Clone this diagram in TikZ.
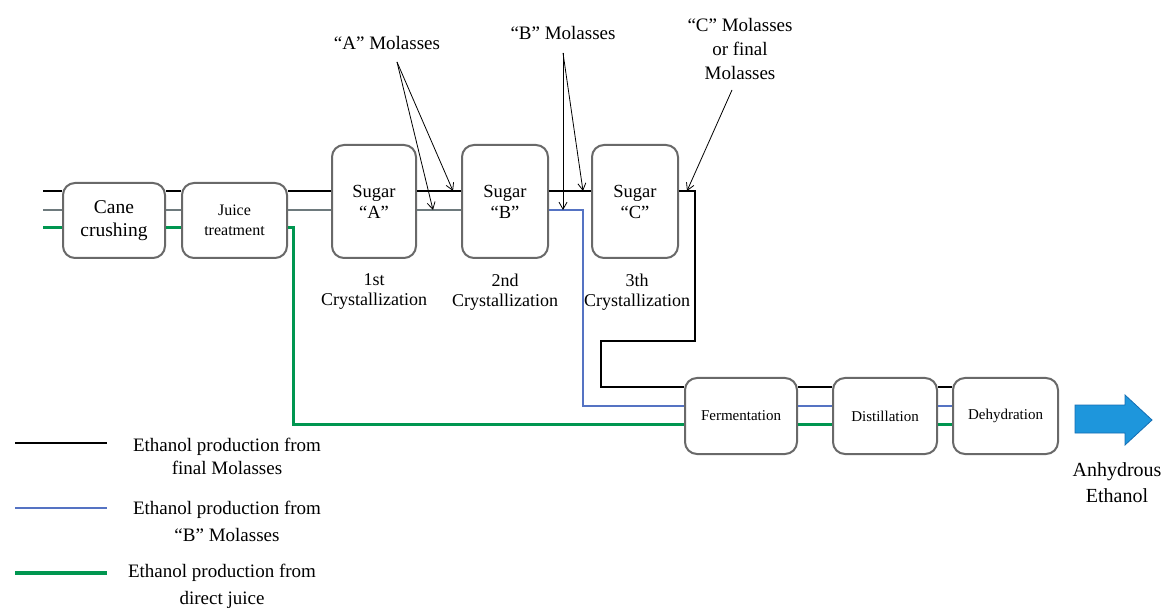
\documentclass[tikz,border=0pt]{standalone}
\usepackage{fontspec}
\setmainfont{LiberationSerif}[Extension=.ttf, UprightFont=*-Regular, BoldFont=*-Bold, ItalicFont=*-Italic, BoldItalicFont=*-BoldItalic]
\usetikzlibrary{arrows.meta}
\definecolor{boxgray}{RGB}{105,105,105}
\definecolor{midgray}{RGB}{110,122,125}
\definecolor{flowblue}{RGB}{85,115,195}
\definecolor{flowgreen}{RGB}{0,150,80}
\definecolor{arrowblue}{RGB}{30,150,220}
\definecolor{arrowedge}{RGB}{20,110,180}
\begin{document}
\begin{tikzpicture}[x=1pt,y=-1pt,
 procbox/.style={draw=boxgray, line width=2pt, rounded corners=12pt, fill=white, align=center, inner sep=0pt},
 txt/.style={align=center, inner sep=0pt, font=\fontsize{19}{25}\selectfont},
 blk/.style={black, line width=2pt},
 mid/.style={midgray, line width=1.6pt},
 blu/.style={flowblue, line width=1.6pt},
 grn/.style={flowgreen, line width=3pt},
 molarrow/.style={black, line width=0.8pt, -{Straight Barb[length=7pt,width=8pt]}},
]
\useasboundingbox (0,0) rectangle (1167,609);
\fill[white] (0,0) rectangle (1167,609);

% process boxes
\node[procbox, minimum width=102pt, minimum height=75pt, font=\fontsize{19.5}{23}\selectfont] (cane) at (114,220.5) {Cane\\crushing};
\node[procbox, minimum width=105pt, minimum height=75pt, font=\fontsize{16}{20}\selectfont] (juice) at (234.5,220.5) {Juice\\treatment};
\node[procbox, minimum width=84pt, minimum height=113pt, font=\fontsize{18.5}{21}\selectfont] (sugA) at (374,201.5) {Sugar\\“A”};
\node[procbox, minimum width=86pt, minimum height=113pt, font=\fontsize{18.5}{21}\selectfont] (sugB) at (505,201.5) {Sugar\\“B”};
\node[procbox, minimum width=86pt, minimum height=113pt, font=\fontsize{18.5}{21}\selectfont] (sugC) at (635,201.5) {Sugar\\“C”};
\node[procbox, minimum width=112pt, minimum height=76pt, font=\fontsize{15}{18}\selectfont] (ferm) at (741,416) {Fermentation};
\node[procbox, minimum width=104pt, minimum height=76pt, font=\fontsize{15}{18}\selectfont] (dist) at (885,416) {Distillation};
\node[procbox, minimum width=105pt, minimum height=76pt, font=\fontsize{15}{18}\selectfont] (dehy) at (1005.5,416) {Dehydration};

% stage labels
\node[txt, font=\fontsize{18}{20}\selectfont] (c1) at (374,292) {1st\\Crystallization};
\node[txt, font=\fontsize{18}{20}\selectfont] (c2) at (505,292) {2nd\\Crystallization};
\node[txt, font=\fontsize{18}{20}\selectfont] (c3) at (637,292) {3th\\Crystallization};

% flow line levels
\coordinate (inK) at (43,191);
\coordinate (inM) at (43,210);
\coordinate (inG) at (43,228);
\coordinate (yK) at (0,387);
\coordinate (yB) at (0,406);
\coordinate (yG) at (0,424);

% input lines and lines between upper boxes
\draw[blk] (inK) -- (inK -| cane.west);
\draw[mid] (inM) -- (inM -| cane.west);
\draw[grn] (inG) -- (inG -| cane.west);
\draw[blk] (cane.east |- inK) -- (juice.west |- inK);
\draw[mid] (cane.east |- inM) -- (juice.west |- inM);
\draw[grn] (cane.east |- inG) -- (juice.west |- inG);
\draw[blk] (juice.east |- inK) -- (sugA.west |- inK);
\draw[mid] (juice.east |- inM) -- (sugA.west |- inM);
\draw[blk] (sugA.east |- inK) -- (sugB.west |- inK);
\draw[mid] (sugA.east |- inM) -- (sugB.west |- inM);
\draw[blk] (sugB.east |- inK) -- (sugC.west |- inK);

% routes to fermentation
\coordinate (kc2) at (695,341);
\coordinate (kc3) at (601,341);
\draw[blk] (sugC.east |- inK) -| (kc2) -- (kc3) |- (ferm.west |- yK);
\coordinate (bc) at (583,406);
\draw[blu] (sugB.east |- inM) -| (bc) -- (ferm.west |- yB);
\coordinate (gc) at (293,424);
\draw[grn] (juice.east |- inG) -| (gc) -- (ferm.west |- yG);

% lower lines between boxes
\draw[blk] (ferm.east |- yK) -- (dist.west |- yK);
\draw[blu] (ferm.east |- yB) -- (dist.west |- yB);
\draw[grn] (ferm.east |- yG) -- (dist.west |- yG);
\draw[blk] (dist.east |- yK) -- (dehy.west |- yK);
\draw[blu] (dist.east |- yB) -- (dehy.west |- yB);
\draw[grn] (dist.east |- yG) -- (dehy.west |- yG);

% molasses labels and arrows
\node[txt] (molA) at (387,43) {“A” Molasses};
\node[txt] (molB) at (563,33) {“B” Molasses};
\node[txt, font=\fontsize{19}{24}\selectfont] (molC) at (740,49) {“C” Molasses\\or final\\Molasses};
\coordinate (aS) at (397,62);
\coordinate (aK) at (453,191);
\coordinate (aM) at (433,210);
\draw[molarrow] (aS) -- (aK);
\draw[molarrow] (aS) -- (aM);
\coordinate (bS) at (563,53);
\coordinate (bK) at (583,191);
\coordinate (bM) at (563,210);
\draw[molarrow] (bS) -- (bK);
\draw[molarrow] (bS) -- (bM);
\coordinate (cS) at (732,90);
\coordinate (cK) at (687,191);
\draw[molarrow] (cS) -- (cK);

% output arrow
\filldraw[fill=arrowblue, draw=arrowedge, line width=0.8pt] (1075,405) -- (1125,405) -- (1125,395) -- (1152,420) -- (1125,445) -- (1125,433) -- (1075,433) -- cycle;
\node[txt, font=\fontsize{20}{26}\selectfont] (out) at (1117,483) {Anhydrous\\Ethanol};

% legend
\coordinate (l1a) at (15,443); \coordinate (l1b) at (107,443);
\coordinate (l2a) at (15,508); \coordinate (l2b) at (107,508);
\coordinate (l3a) at (15,573); \coordinate (l3b) at (107,573);
\draw[black, line width=1.5pt] (l1a) -- (l1b);
\draw[flowblue, line width=2.2pt] (l2a) -- (l2b);
\draw[flowgreen, line width=4pt] (l3a) -- (l3b);
\node[txt, font=\fontsize{19}{23}\selectfont] (leg1) at (227,456) {Ethanol production from\\final Molasses};
\node[txt, font=\fontsize{19}{27}\selectfont] (leg2) at (227,521) {Ethanol production from\\“B” Molasses};
\node[txt, font=\fontsize{19}{27}\selectfont] (leg3) at (222,586) {Ethanol production from\\direct juice};
\end{tikzpicture}
\end{document}
